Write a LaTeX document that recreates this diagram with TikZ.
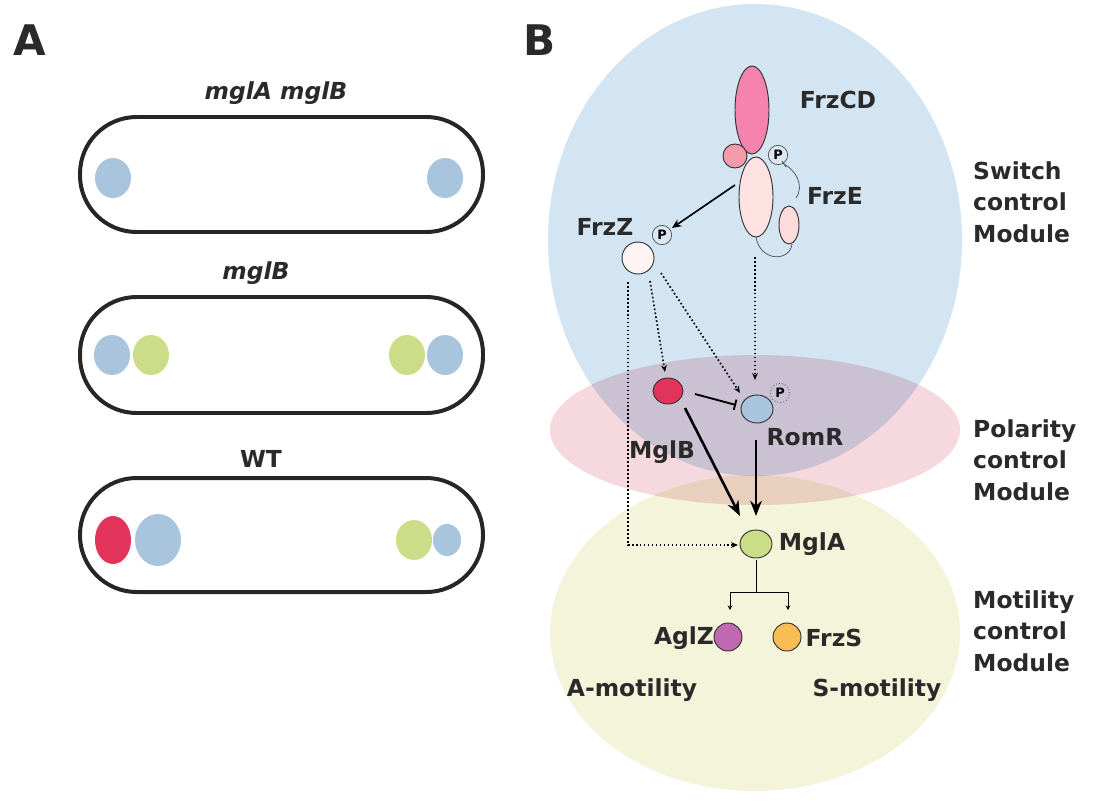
\documentclass[tikz,border=0pt]{standalone}
\usepackage{fontspec}
\setmainfont{DejaVu Sans}
\usetikzlibrary{arrows.meta}
\definecolor{sblue}{HTML}{A9C4DD}
\definecolor{sgreen}{HTML}{CCDD88}
\definecolor{sred}{HTML}{E2335A}
\definecolor{txt}{HTML}{2A2A2A}
\definecolor{mblue}{HTML}{D3E5F2}
\definecolor{mpink}{HTML}{F5D9DF}
\definecolor{myel}{HTML}{F3F4DA}
\definecolor{aglzc}{HTML}{C068B0}
\definecolor{frzsc}{HTML}{F8BE55}
\begin{document}
\begin{tikzpicture}[x=0.03cm,y=-0.03cm,
 lab/.style={font=\fontsize{20}{24}\selectfont\bfseries,text=txt,inner sep=0},
 big/.style={font=\fontsize{36}{40}\selectfont\bfseries,text=txt,inner sep=0},
 cell/.style={line width=3.4pt,draw=black!85,rounded corners=1.7cm},
 prot/.style={draw=black!80,line width=0.8pt},
 pc/.style={draw=black!70,line width=0.6pt,fill=white!60!sblue,circle,inner sep=0,minimum size=0.58cm,font=\fontsize{11}{12}\selectfont\bfseries},
 dot/.style={dotted,line width=1.4pt,-{Stealth[length=6pt,width=5pt]}},
 thick/.style={line width=2.2pt,-{Stealth[length=13pt,width=10pt]}}]
\useasboundingbox (0,0) rectangle (1107,800);
% A
\node[big] (A) at (30,40) {A};
\node[big] (B) at (540,40) {B};
\node[lab,font=\fontsize{20}{24}\selectfont\bfseries\itshape] (l1) at (276,93) {mglA mglB};
\node[lab,font=\fontsize{20}{24}\selectfont\bfseries\itshape] (l2) at (256,273) {mglB};
\node[lab] (l3) at (261,459) {WT};
\draw[cell] (80,117) rectangle (483,232);
\draw[cell] (80,297) rectangle (483,413);
\draw[cell] (80,478) rectangle (483,592);
\fill[sblue] (113,178) ellipse (18 and 20);
\fill[sblue] (445,178) ellipse (18 and 20);
\fill[sblue] (112,355) ellipse (18 and 20);
\fill[sgreen] (151,355) ellipse (18 and 20);
\fill[sgreen] (407,355) ellipse (18 and 20);
\fill[sblue] (445,355) ellipse (18 and 20);
\fill[sred] (113,540) ellipse (18 and 24);
\fill[sblue] (158,540) ellipse (23 and 26);
\fill[sgreen] (414,540) ellipse (18 and 20);
\fill[sblue] (447,540) ellipse (14 and 16);
% B modules
\begin{scope}[blend mode=multiply]
\fill[mblue] (755,240) ellipse (207 and 236);
\fill[mpink] (755,430) ellipse (205 and 75);
\fill[myel] (755,633) ellipse (205 and 158);
\end{scope}
% Frz proteins
\draw[prot,fill=magenta!40!pink!90!white] (752,110) ellipse (17 and 44);
\draw[prot,fill=magenta!20!pink] (735,156) circle (12);
\draw[prot,fill=pink!45] (756,197) ellipse (17 and 40);
\draw[prot,fill=pink!55] (789,225) ellipse (10 and 19);
\node[pc] (P1) at (778,155) {P};
\draw[black!70,line width=0.6pt] (756,237) .. controls (760,262) and (790,262) .. (792,244);
\draw[black!70,line width=0.6pt] (796,198) .. controls (805,185) and (795,170) .. (784,164);
\draw[black!70,line width=0.6pt] (782,161)--(786,167);
\draw[prot,fill=pink!18] (638,258) circle (16);
\node[pc] (P2) at (662,235) {P};
\node[lab] (frzcd) at (838,100) {FrzCD};
\node[lab] (frze) at (835,196) {FrzE};
\node[lab] (frzz) at (605,227) {FrzZ};
\coordinate (e1) at (735,185);
\coordinate (e2) at (672,228);
\draw[line width=1.4pt,-{Stealth[length=8pt,width=7pt]}] (e1)--(e2);
% polarity
\draw[prot,fill=sred] (668,391) ellipse (15 and 13) node (mglb) {};
\draw[prot,fill=sblue] (757,409) ellipse (16 and 14) node (romr) {};
\node[pc,dotted,fill=none,line width=0.8pt] (P3) at (780,393) {P};
\draw[prot,fill=sgreen] (756,544) ellipse (16 and 14) node (mgla) {};
\draw[prot,fill=aglzc] (728,637) circle (14) node (aglz) {};
\draw[prot,fill=frzsc] (787,637) circle (14) node (frzs) {};
\coordinate (a1) at (650,281); \coordinate (a2) at (665,372);
\draw[dot] (a1)--(a2);
\coordinate (b1) at (661,273); \coordinate (b2) at (740,393);
\draw[dot] (b1)--(b2);
\coordinate (c1) at (755,257); \coordinate (c2) at (755,380);
\draw[dot] (c1)--(c2);
\coordinate (d1) at (628,282); \coordinate (d2) at (738,545);
\draw[dotted,line width=1.4pt,-{Stealth[length=6pt,width=5pt]}] (d1)|-(d2);
\coordinate (i1) at (695,394); \coordinate (i2) at (736,405);
\draw[line width=1.6pt,-{Bar[width=9pt]}] (i1)--(i2);
\coordinate (t1) at (685,408); \coordinate (t2) at (740,516);
\draw[thick] (t1)--(t2);
\coordinate (r1) at (756,440); \coordinate (r2) at (756,516);
\draw[thick] (r1)--(r2);
\coordinate (m1) at (756,560); \coordinate (m2) at (756,592);
\coordinate (m3) at (730,610); \coordinate (m4) at (788,610);
\draw[line width=0.8pt] (m1)--(m2);
\draw[line width=0.8pt,-{Stealth[length=4pt,width=4pt]}] (m2)-|(m3);
\draw[line width=0.8pt,-{Stealth[length=4pt,width=4pt]}] (m2)-|(m4);
\node[lab] at (805,437) {RomR};
\node[lab] at (662,452) {MglB};
\node[lab] at (812,544) {MglA};
\node[lab] at (684,638) {AglZ};
\node[lab] at (834,638) {FrzS};
\node[lab] at (632,690) {A-motility};
\node[lab] at (877,690) {S-motility};
\node[lab,align=left,anchor=west,font=\fontsize{20}{27}\selectfont\bfseries] at (973,202) {Switch\\control\\Module};
\node[lab,align=left,anchor=west,font=\fontsize{20}{27}\selectfont\bfseries] at (973,460) {Polarity\\control\\Module};
\node[lab,align=left,anchor=west,font=\fontsize{20}{27}\selectfont\bfseries] at (973,631) {Motility\\control\\Module};
\end{tikzpicture}
\end{document}
